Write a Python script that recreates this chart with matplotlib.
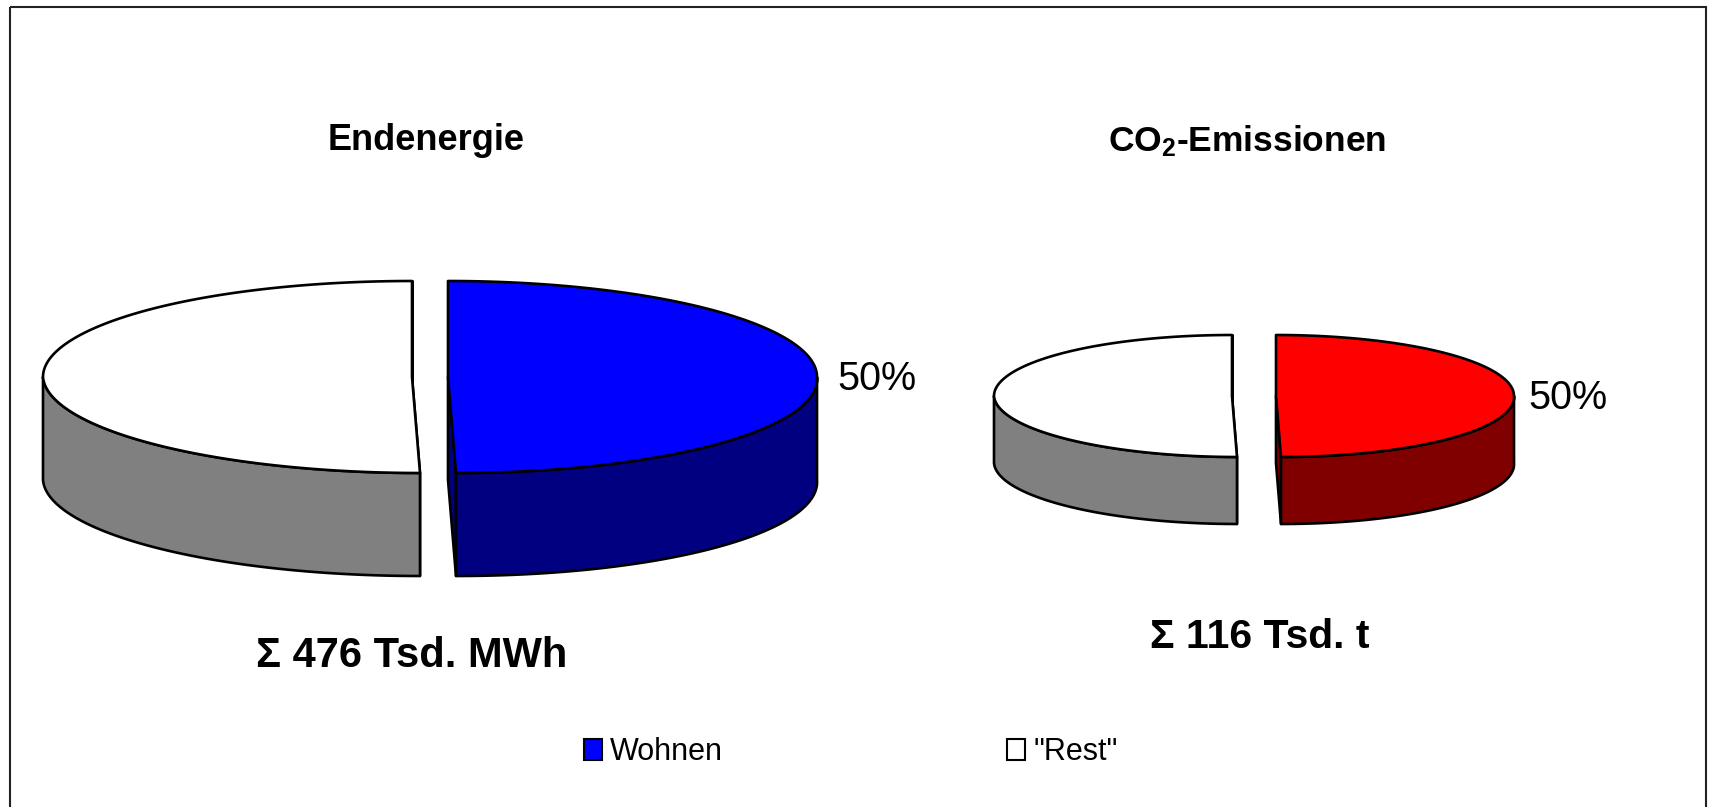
import numpy as np
import matplotlib
matplotlib.use("Agg")
import matplotlib.pyplot as plt
from matplotlib.patches import Polygon, Rectangle, Patch

plt.rcParams["mathtext.default"] = "regular"

# ---- data -------------------------------------------------------------
categories = ["Wohnen", '"Rest"']
endenergie_shares = [50, 50]      # % of final energy
co2_shares = [50, 50]             # % of CO2 emissions
endenergie_total = 476            # Tsd. MWh
co2_total = 116                   # Tsd. t
chart_titles = ["Endenergie", "CO$_2$-Emissionen"]
total_labels = [f"\u03a3 {endenergie_total} Tsd. MWh", f"\u03a3 {co2_total} Tsd. t"]

# ---- styling ----------------------------------------------------------
energy_top = ["#0000FF", "#FFFFFF"]
energy_side = ["#000080", "#808080"]
co2_top = ["#FF0000", "#FFFFFF"]
co2_side = ["#800000", "#808080"]
FONT = ["Liberation Sans", "DejaVu Sans"]

W, H = 1709, 807
fig = plt.figure(figsize=(W / 100, H / 100), dpi=100)
ax = fig.add_axes([0, 0, 1, 1])
ax.set_xlim(0, W)
ax.set_ylim(H, 0)
ax.axis("off")


def visible_range(a0, a1):
    """Part of the angular interval [a0, a1] lying on the front half (0..180 deg)."""
    for k in (-360, 0, 360):
        lo, hi = max(a0, 0 + k), min(a1, 180 + k)
        if hi > lo:
            return lo, hi
    return None


def pie3d(ax, values, cx, cy, rx, ry, depth, explode, shear, tops, sides,
          label_pad=18, fontsize=28.5):
    total = float(sum(values))
    start = -90.0
    lw = 1.9

    def rim(theta_deg, ox, oy, dz):
        t = np.radians(np.atleast_1d(theta_deg))
        x = cx + ox + rx * np.cos(t) + shear * np.clip(np.sin(t), 0, None)
        y = cy + oy + ry * np.sin(t) + dz
        return np.column_stack([x, y])

    for i, (v, top, side) in enumerate(zip(values, tops, sides)):
        span = 360.0 * v / total
        a0, a1 = start, start + span
        mid = np.radians((a0 + a1) / 2)
        ox = explode * np.cos(mid)
        oy = explode * (ry / rx) * np.sin(mid)
        c_top = np.array([[cx + ox, cy + oy]])
        c_bot = np.array([[cx + ox, cy + oy + depth]])

        # cut faces
        for a in (a0, a1):
            quad = np.vstack([c_top, rim(a, ox, oy, 0), rim(a, ox, oy, depth), c_bot])
            ax.add_patch(Polygon(quad, closed=True, facecolor=side, edgecolor="black",
                                 lw=lw, joinstyle="round", zorder=2))

        # outer wall (front half only)
        vr = visible_range(a0, a1)
        if vr is not None:
            th = np.linspace(vr[0], vr[1], 120)
            wall = np.vstack([rim(th, ox, oy, 0), rim(th[::-1], ox, oy, depth)])
            ax.add_patch(Polygon(wall, closed=True, facecolor=side, edgecolor="black",
                                 lw=lw, joinstyle="round", zorder=3))

        # top face
        th = np.linspace(a0, a1, 240)
        face = np.vstack([c_top, rim(th, ox, oy, 0)])
        ax.add_patch(Polygon(face, closed=True, facecolor=top, edgecolor="black",
                             lw=lw, joinstyle="round", zorder=4))

        # percentage label for the first series
        if i == 0:
            p = rim(np.degrees(mid), ox, oy, 0)[0]
            ax.text(p[0] + label_pad, p[1] + 13, f"{100 * v / total:.0f}%",
                    ha="left", va="baseline", fontsize=fontsize, family=FONT,
                    zorder=5)
        start = a1


# ---- pies --------------------------------------------------------------
pie3d(ax, endenergie_shares, cx=430, cy=377, rx=369, ry=96, depth=103,
      explode=18, shear=8, tops=energy_top, sides=energy_side, label_pad=20)
pie3d(ax, co2_shares, cx=1254, cy=396, rx=238, ry=61, depth=67,
      explode=22, shear=5, tops=co2_top, sides=co2_side, label_pad=14)

# ---- titles and totals -------------------------------------------------
ax.text(426, 150, chart_titles[0], ha="center", va="baseline", fontsize=26,
        fontweight="bold", family="Liberation Sans")
ax.text(1247, 151, chart_titles[1], ha="center", va="baseline", fontsize=25.5,
        fontweight="bold", family="Liberation Sans")
ax.text(412, 667, total_labels[0], ha="center", va="baseline", fontsize=30,
        fontweight="bold", family=FONT)
ax.text(1260, 648, total_labels[1], ha="center", va="baseline", fontsize=29.5,
        fontweight="bold", family=FONT)

# ---- legend ------------------------------------------------------------
fs_leg = 22
px = fs_leg * 100 / 72
handles = [Patch(facecolor=energy_top[0], edgecolor="black", lw=1.5),
           Patch(facecolor=energy_top[1], edgecolor="black", lw=1.5)]
leg = ax.legend(handles, categories, loc="center left",
                bbox_to_anchor=(584, 752), bbox_transform=ax.transData,
                ncol=2, frameon=False, borderpad=0, borderaxespad=0,
                handlelength=18 / px, handleheight=20 / px,
                handletextpad=8 / px, columnspacing=9.3,
                prop={"family": FONT, "size": fs_leg})

# ---- outer frame -------------------------------------------------------
ax.add_patch(Rectangle((10, 7), 1696, 900, fill=False, edgecolor="#222222",
                       lw=1.5, clip_on=False, zorder=6))

fig.savefig("out.png", dpi=100)
